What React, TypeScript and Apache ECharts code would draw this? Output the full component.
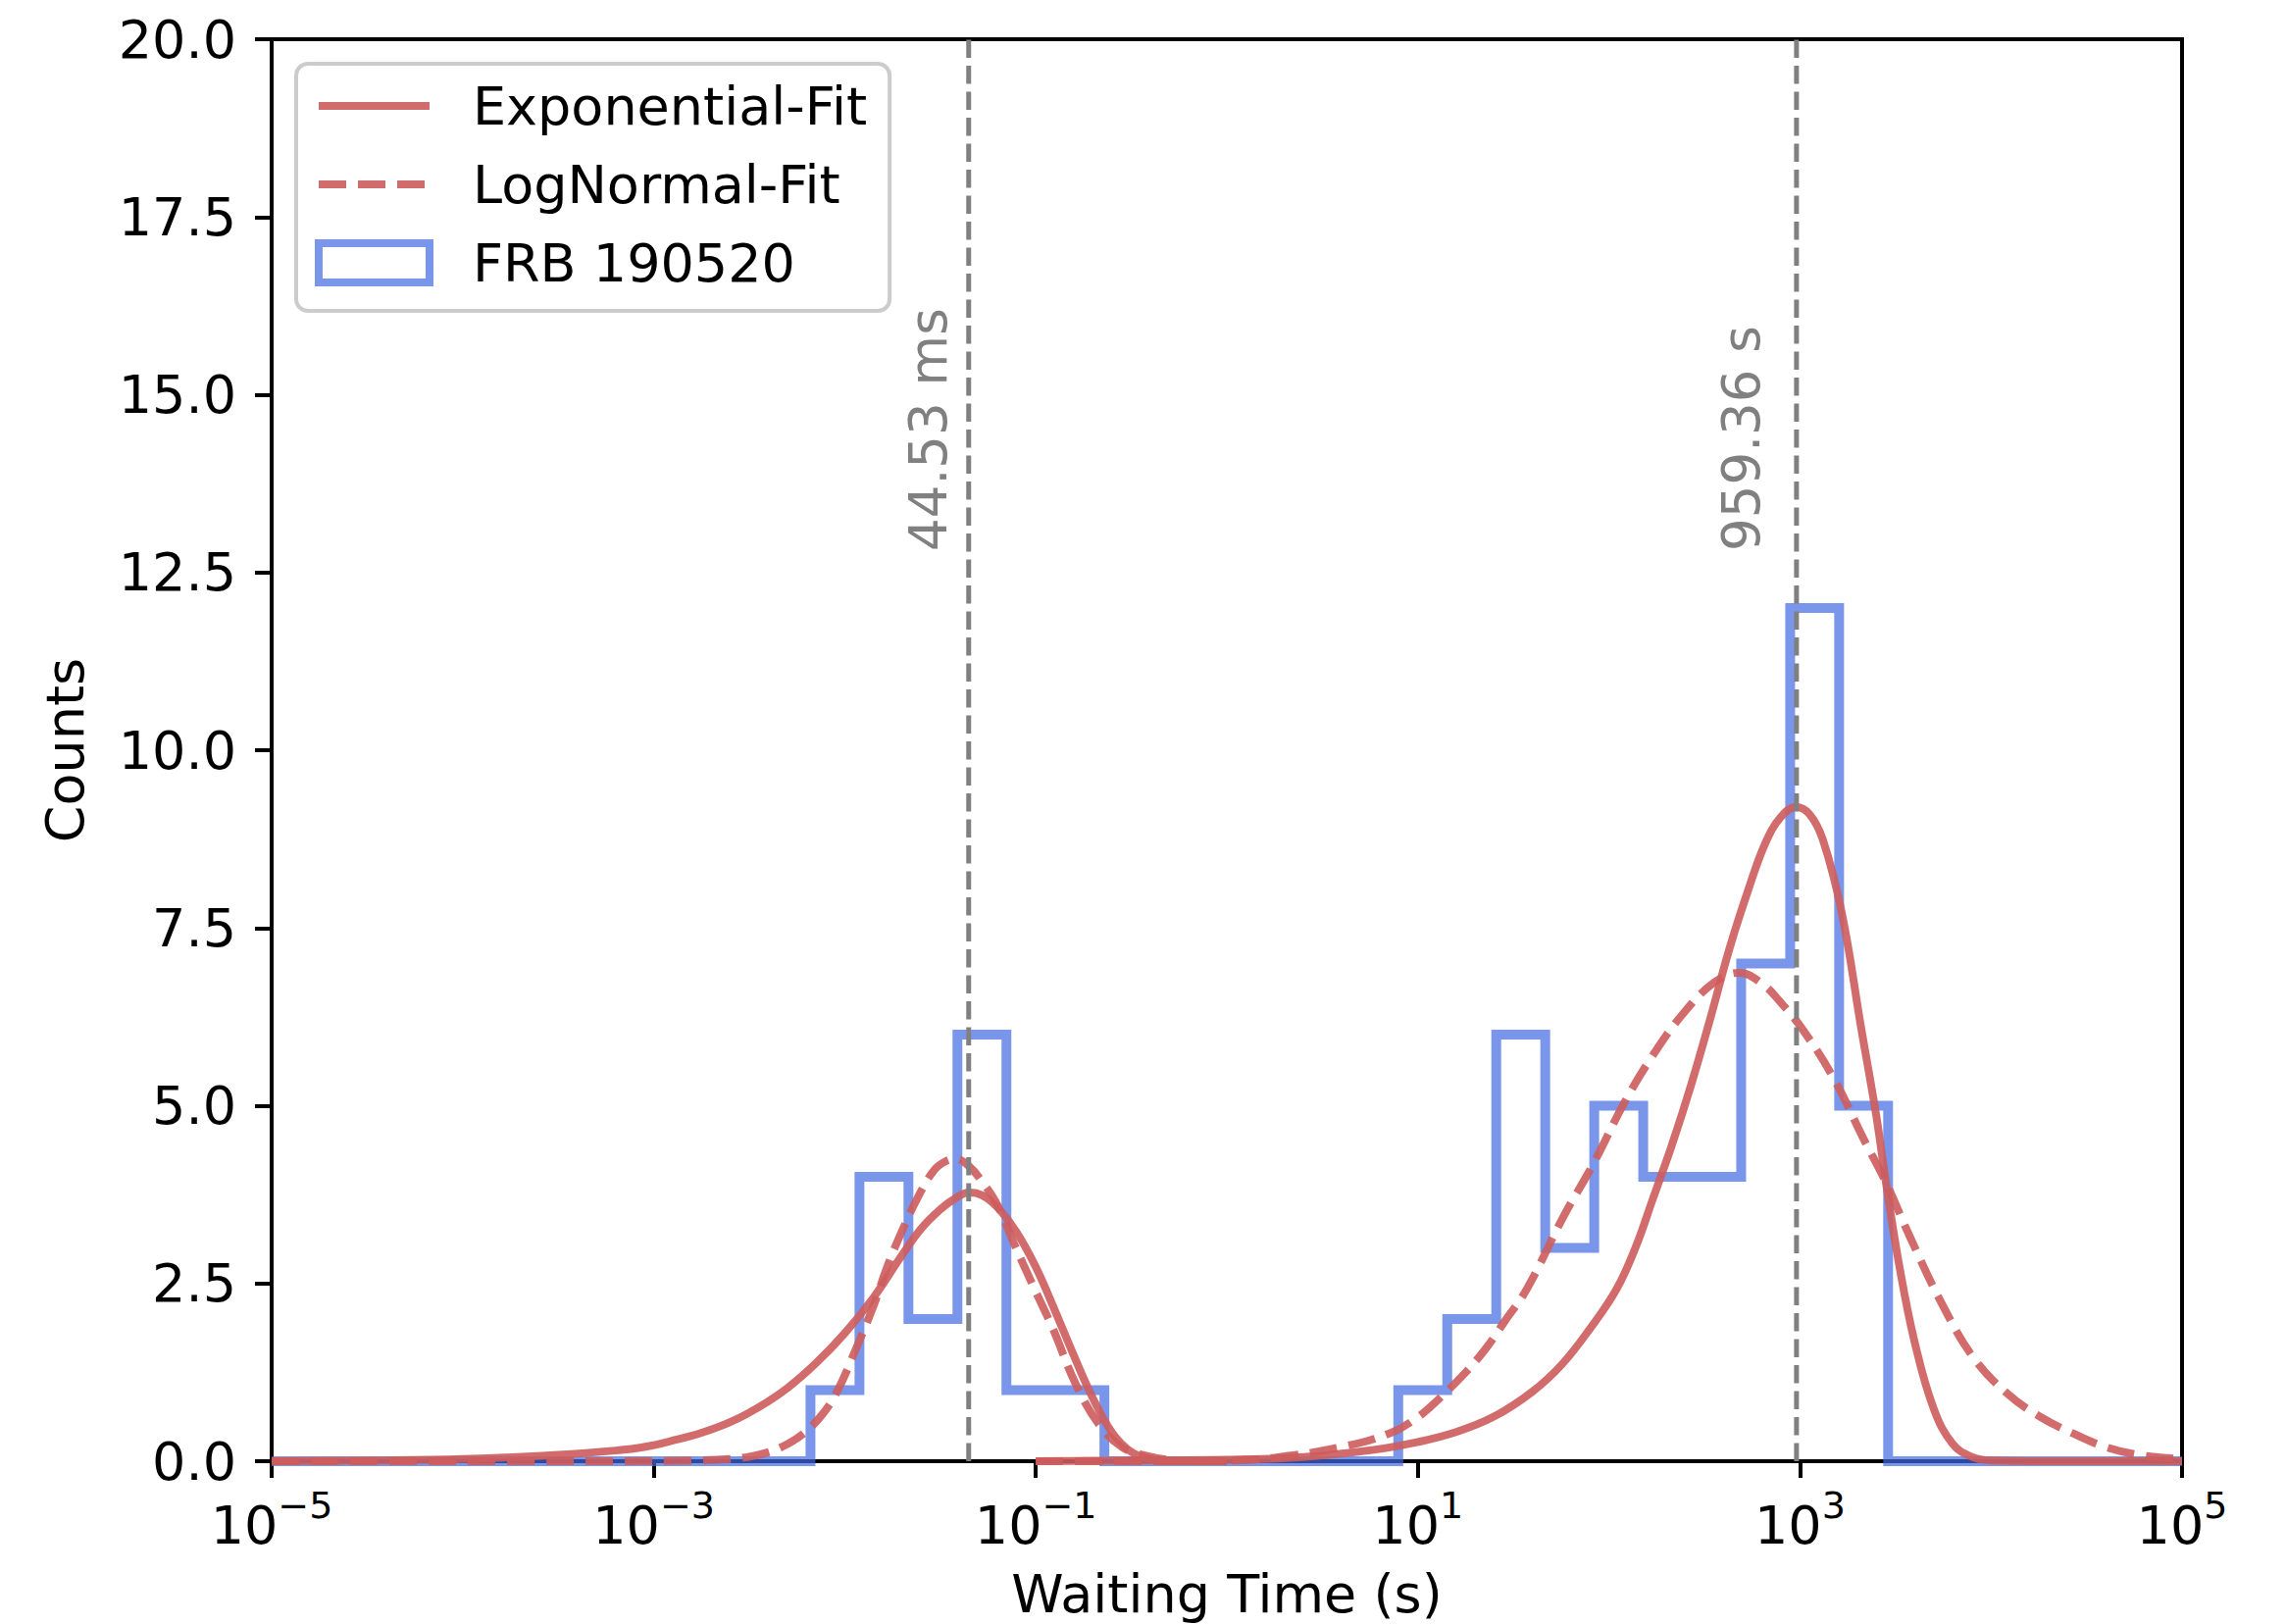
import React, { useEffect, useRef } from 'react';
import * as echarts from 'echarts';

const FONT = 'DejaVu Sans';
const FS = 54;

// Histogram (log-spaced bins), edges given as log10(seconds); zero-count bins merged
const histEdgesExp = [-5, -2.1795, -1.9231, -1.6667, -1.4103, -1.1538, -0.8974, -0.641, 0.8974, 1.1538, 1.4103, 1.6667, 1.9231, 2.1795, 2.4359, 2.6923, 2.9487, 3.2051, 3.4615, 5];
const histCounts = [0, 1, 4, 2, 6, 1, 1, 0, 1, 2, 6, 3, 5, 4, 4, 7, 12, 5, 0];

// Fit curves: [log10(seconds), counts]
const expFitLeft = [
  [-5, 0.0], [-4.5, 0.01], [-4.0, 0.03], [-3.5, 0.09], [-3.2, 0.15], [-3.05, 0.2], [-2.9, 0.29],
  [-2.75, 0.4], [-2.6, 0.55], [-2.45, 0.76], [-2.3, 1.03], [-2.15, 1.38], [-2.0, 1.8], [-1.85, 2.3],
  [-1.7, 2.9], [-1.6, 3.27], [-1.5, 3.54], [-1.42, 3.7], [-1.35, 3.78], [-1.28, 3.74], [-1.2, 3.57],
  [-1.1, 3.22], [-1.0, 2.73], [-0.9, 2.12], [-0.8, 1.48], [-0.7, 0.88], [-0.6, 0.4], [-0.5, 0.13],
  [-0.4, 0.03], [-0.3, 0.0], [0, 0]
];
const lnFitLeft = [
  [-5, 0], [-3.2, 0], [-2.8, 0.01], [-2.6, 0.03], [-2.45, 0.09], [-2.33, 0.2], [-2.22, 0.38],
  [-2.12, 0.65], [-2.04, 0.98], [-1.94, 1.59], [-1.85, 2.18], [-1.78, 2.72], [-1.7, 3.24], [-1.61, 3.75],
  [-1.53, 4.1], [-1.47, 4.22], [-1.42, 4.25], [-1.35, 4.15], [-1.28, 3.93], [-1.2, 3.6], [-1.12, 3.1],
  [-1.02, 2.5], [-0.91, 1.86], [-0.79, 1.08], [-0.67, 0.52], [-0.55, 0.2], [-0.43, 0.08], [-0.3, 0.02],
  [-0.1, 0], [0, 0]
];
const expFitRight = [
  [-1, 0], [-0.5, 0.01], [0, 0.02], [0.4, 0.06], [0.77, 0.16], [1.0, 0.27], [1.2, 0.41], [1.4, 0.63],
  [1.6, 0.98], [1.75, 1.35], [1.9, 1.86], [2.04, 2.42], [2.14, 3.01], [2.23, 3.69], [2.33, 4.45],
  [2.43, 5.29], [2.53, 6.22], [2.63, 7.2], [2.73, 8.04], [2.82, 8.7], [2.9, 9.06], [2.98, 9.2],
  [3.05, 9.1], [3.12, 8.74], [3.22, 7.7], [3.32, 6.1], [3.4, 4.85], [3.45, 3.92], [3.52, 2.75],
  [3.6, 1.68], [3.7, 0.74], [3.8, 0.24], [3.9, 0.06], [4.0, 0.01], [4.2, 0], [5, 0]
];
const lnFitRight = [
  [-1, 0], [-0.5, 0.0], [0, 0.01], [0.25, 0.05], [0.6, 0.2], [0.86, 0.4], [1.0, 0.62], [1.1, 0.85],
  [1.25, 1.25], [1.36, 1.6], [1.45, 1.95], [1.57, 2.42], [1.76, 3.43], [1.92, 4.19], [2.08, 5.04],
  [2.23, 5.71], [2.39, 6.3], [2.55, 6.73], [2.68, 6.87], [2.8, 6.72], [2.9, 6.45], [3.02, 6.05],
  [3.18, 5.37], [3.33, 4.55], [3.45, 3.92], [3.57, 3.19], [3.74, 2.23], [3.91, 1.45], [4.09, 0.94],
  [4.26, 0.62], [4.43, 0.39], [4.6, 0.2], [4.77, 0.09], [4.94, 0.04], [5, 0.03]
];

const vLineTimes = [0.04453, 959.36];
const vLineLabels = ['44.53 ms', '959.36 s'];

const RED = 'rgba(205,92,92,0.9)';
const BLUE = 'rgba(65,105,225,0.7)';
const GREY = '#808080';
const RED_DASH = [28, 12];

const toXY = (pts: number[][]) => pts.map(([e, v]) => [Math.pow(10, e), v]);

function histPoints() {
  const pts: number[][] = [[Math.pow(10, histEdgesExp[0]), 0]];
  for (let i = 0; i < histCounts.length; i++) {
    pts.push([Math.pow(10, histEdgesExp[i]), histCounts[i]]);
    pts.push([Math.pow(10, histEdgesExp[i + 1]), histCounts[i]]);
  }
  pts.push([Math.pow(10, histEdgesExp[histEdgesExp.length - 1]), 0]);
  return pts;
}

const fmtExp = (v: number) => {
  const e = Math.round(Math.log10(v));
  return '{b|10}{s|' + (e < 0 ? '\u2212' : '') + Math.abs(e) + '}';
};

export default function App() {
  const ref = useRef<HTMLDivElement>(null);
  useEffect(() => {
    const chart = echarts.init(ref.current!, null, { renderer: 'svg' });
    const fitLine = (name: string, data: number[][], dashed: boolean) => ({
      name,
      type: 'line',
      data: toXY(data),
      showSymbol: false,
      symbol: 'none',
      smooth: 0.4,
      lineStyle: { color: RED, width: 8, type: dashed ? RED_DASH : 'solid', cap: 'butt' },
      itemStyle: { color: RED },
      z: 4,
    });
    const hiddenSymbol = { color: 'rgba(0,0,0,0)', borderWidth: 0, opacity: 0 };
    const option: any = {
      animation: false,
      backgroundColor: '#ffffff',
      grid: {
        left: 277, top: 40, right: 105, bottom: 166,
        containLabel: false,
        outerBoundsMode: 'none',
        show: true, borderColor: '#000', borderWidth: 4, backgroundColor: 'transparent',
      },
      legend: {
        orient: 'vertical',
        left: 302,
        top: 65,
        padding: [16, 23, 22, 19],
        itemWidth: 113,
        itemHeight: 40,
        itemGap: 26,
        backgroundColor: 'rgba(255,255,255,0.8)',
        borderColor: '#cccccc',
        borderWidth: 4,
        borderRadius: 12,
        textStyle: { fontSize: FS, fontFamily: FONT, color: '#000', padding: [0, 0, 0, 39] },
        data: [
          { name: 'Exponential-Fit', itemStyle: hiddenSymbol, lineStyle: { color: RED, width: 8, type: 'solid' } },
          { name: 'LogNormal-Fit', itemStyle: hiddenSymbol, lineStyle: { color: RED, width: 8, type: RED_DASH } },
          { name: 'FRB 190520', icon: 'rect', itemStyle: { color: 'rgba(0,0,0,0)', borderColor: BLUE, borderWidth: 8 } },
        ],
      },
      xAxis: {
        type: 'log',
        logBase: 10,
        min: 1e-5,
        max: 1e5,
        interval: 2,
        splitNumber: 5,
        name: 'Waiting Time (s)',
        nameLocation: 'middle',
        nameGap: 108,
        nameTextStyle: { fontSize: FS, lineHeight: 54, fontFamily: FONT, color: '#000' },
        axisLine: { show: true, onZero: false, lineStyle: { color: '#000', width: 4 } },
        axisTick: { show: true, inside: false, length: 17, lineStyle: { color: '#000', width: 4 } },
        minorTick: { show: false },
        splitLine: { show: false },
        axisLabel: {
          margin: 26,
          formatter: fmtExp,
          color: '#000',
          rich: {
            b: { fontSize: FS, fontFamily: FONT, color: '#000', lineHeight: 66, verticalAlign: 'bottom' },
            s: { fontSize: 38, fontFamily: FONT, color: '#000', lineHeight: 38, verticalAlign: 'top' },
          },
        },
      },
      yAxis: {
        type: 'value',
        min: 0,
        max: 20,
        interval: 2.5,
        name: 'Counts',
        nameLocation: 'middle',
        nameGap: 184,
        nameTextStyle: { fontSize: FS, fontFamily: FONT, color: '#000' },
        axisLine: { show: true, lineStyle: { color: '#000', width: 4 } },
        axisTick: { show: true, inside: false, length: 17, lineStyle: { color: '#000', width: 4 } },
        splitLine: { show: false },
        axisLabel: {
          margin: 36,
          fontSize: FS,
          fontFamily: FONT,
          color: '#000',
          formatter: (v: number) => v.toFixed(1),
        },
      },
      series: [
        {
          name: 'FRB 190520',
          type: 'line',
          data: histPoints(),
          showSymbol: false,
          symbol: 'none',
          lineStyle: { color: BLUE, width: 10, join: 'miter' },
          itemStyle: { color: BLUE },
          z: 3,
        },
        fitLine('Exponential-Fit', expFitLeft, false),
        fitLine('Exponential-Fit', expFitRight, false),
        fitLine('LogNormal-Fit', lnFitLeft, true),
        fitLine('LogNormal-Fit', lnFitRight, true),
        ...vLineTimes.map((t, i) => ({
          name: 'vline' + i,
          type: 'line',
          data: [[t, 0], [t, 20]],
          showSymbol: false,
          symbol: 'none',
          lineStyle: { color: GREY, width: 5, type: [18.5, 8] },
          z: 5,
        })),
      ],
    };
    chart.setOption(option);
    const labelDx = [-15, -30];
    const labels = vLineTimes.map((t, i) => {
      const p = chart.convertToPixel({ xAxisIndex: 0, yAxisIndex: 0 }, [t, 12.8]) as number[];
      return {
        type: 'text',
        x: p[0] + labelDx[i],
        y: p[1],
        rotation: Math.PI / 2,
        z: 10,
        style: {
          text: vLineLabels[i],
          fontSize: 53,
          fontFamily: FONT,
          fill: GREY,
          align: 'left',
          verticalAlign: 'bottom',
        },
      };
    });
    chart.setOption({ graphic: labels });
    return () => chart.dispose();
  }, []);
  return (
    <div
      ref={ref}
      style={{ position: 'fixed', left: 0, top: 0, width: 2330, height: 1656, background: '#fff' }}
    />
  );
}
